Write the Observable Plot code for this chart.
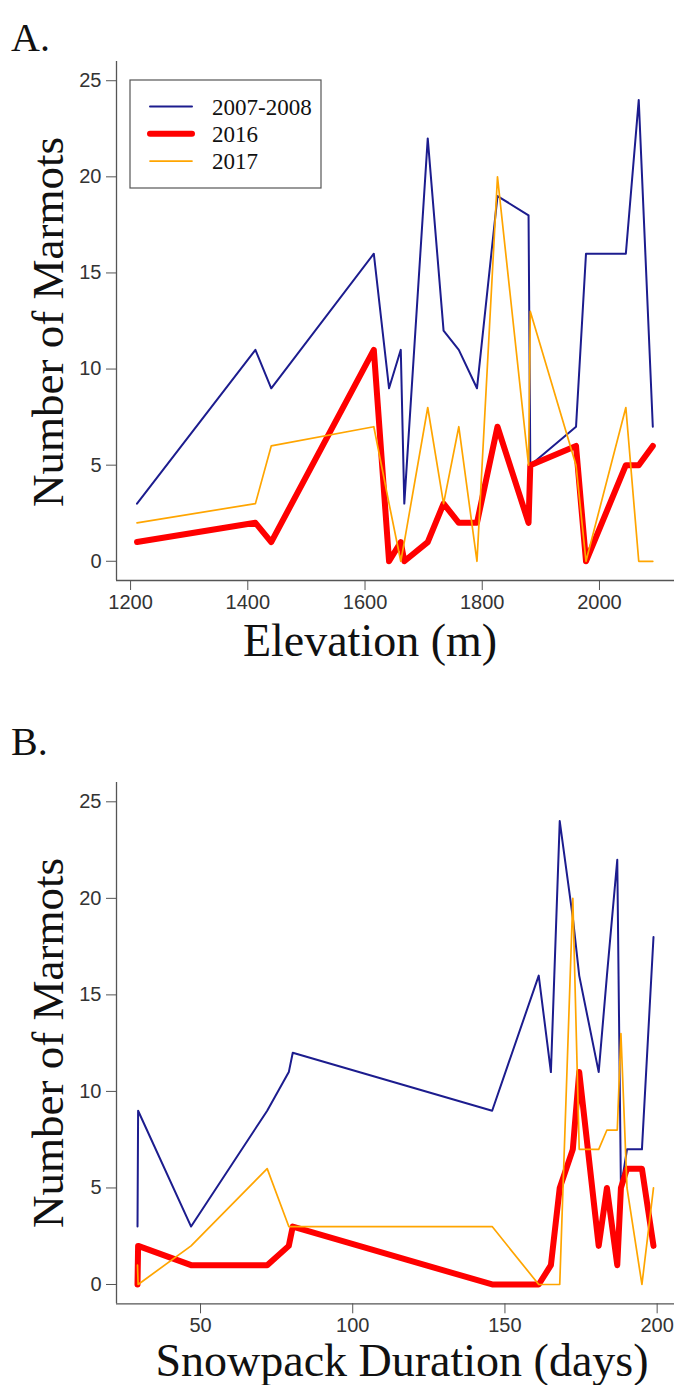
<!DOCTYPE html>
<html><head><meta charset="utf-8">
<script src="https://cdn.jsdelivr.net/npm/d3@7"></script>
<script src="https://cdn.jsdelivr.net/npm/@observablehq/plot@0.6"></script>
<style>
body{margin:0;background:#fff;}
#wrap{position:relative;width:677px;height:1385px;overflow:hidden;}
#wrap > svg{position:absolute;left:0;}
</style></head><body><div id="wrap"></div>
<script>
// ---- data (one entry per site) ----
const elevation = [1211,1413,1440,1615,1641,1661,1667,1707,1734,1760,1791,1826,1879,1882,1960,1977,2045,2067,2091];
const snowpack  = [46.9,79.0,71.9,174.4,145.8,165.1,29.3,186.9,80.3,180.8,29.5,172.3,198.8,188.1,190.1,161.1,183.5,168.0,195.0];
const marmots2007_2008 = [3,11,9,16,9,11,3,22,12,11,9,19,18,5,7,16,16,24,7];
const marmots2016      = [1,2,1,11,0,1,0,1,3,2,2,7,2,5,6,0,5,5,6];
const marmots2017      = [2,3,6,7,3,0,1,8,3,7,0,20,5,13,5,0,8,0,0];
const seriesNames  = ["2007-2008","2016","2017"];
const seriesColors = ["#1c1c8e","#ff0000","#ffa500"];
const seriesWidths = [2,6,1.7];
const elevationTicks = [1200,1400,1600,1800,2000];
const snowTicks = [50,100,150,200];
const countTicks = [0,5,10,15,20,25];

const seriesValues = [marmots2007_2008, marmots2016, marmots2017];
const serif = "'Liberation Serif','Times New Roman',serif";
const sans = "'Liberation Sans',Arial,sans-serif";

function seriesRows(xs, i){
  return d3.sort(xs.map((x,j)=>({x, y: seriesValues[i][j], series: seriesNames[i]})), d=>d.x);
}

function panel({xs, xDomain, ticks, height, marginTop, marginBottom}){
  const marks = [];
  seriesNames.forEach((name,i)=>{
    marks.push(Plot.line(seriesRows(xs,i), {x:"x", y:"y", stroke: seriesColors[i], strokeWidth: seriesWidths[i], strokeLinejoin:"round", strokeLinecap:"round"}));
  });
  marks.push(Plot.ruleX([xDomain[0]], {stroke:"#555", strokeWidth:1.3}));
  marks.push(Plot.ruleY([-1], {stroke:"#555", strokeWidth:1.3}));
  marks.push(Plot.axisX({ticks, tickSize:10, tickPadding:4, fontSize:20, label:null, stroke:"#555", tickFormat: d3.format("d")}));
  marks.push(Plot.axisY({ticks: countTicks, tickSize:10, tickPadding:5, fontSize:20, label:null, stroke:"#555", tickFormat: d3.format("d")}));
  return Plot.plot({
    width:677, height, marginLeft:116, marginRight:3, marginTop, marginBottom,
    x:{domain:xDomain}, y:{domain:[-1,26]},
    style:{fontFamily:sans, color:"#333", background:"#fff", overflow:"visible"},
    marks
  });
}

const wrap = d3.select("#wrap");

function addText(sel, {x, y, size, text, anchor="start", transform=null}){
  const t = sel.append("text").attr("text-anchor",anchor).attr("font-family",serif).attr("font-size",size).attr("fill","#111").text(text);
  if (transform) t.attr("transform",transform); else t.attr("x",x).attr("y",y);
  return t;
}

// Panel A
const svgA = panel({xs: elevation, xDomain:[1176,2128], ticks: elevationTicks, height:690, marginTop:61, marginBottom:110});
svgA.style.top = "0px";
wrap.node().appendChild(svgA);
const sA = d3.select(svgA);
addText(sA, {x:11, y:51, size:40, text:"A."});
addText(sA, {x:370, y:656, size:46, text:"Elevation (m)", anchor:"middle"});
addText(sA, {transform:"translate(63,322) rotate(-90)", size:45, text:"Number of Marmots", anchor:"middle"});

// Legend (panel A)
const lg = sA.append("g");
lg.append("rect").attr("x",130).attr("y",80).attr("width",191).attr("height",108).attr("fill","#fff").attr("stroke","#555").attr("stroke-width",1.2);
seriesNames.forEach((name,i)=>{
  const yy = 106.5 + i*27.3;
  lg.append("line").attr("x1",150).attr("x2",192).attr("y1",yy).attr("y2",yy).attr("stroke",seriesColors[i]).attr("stroke-width",seriesWidths[i]).attr("stroke-linecap","round");
  addText(lg, {x:212, y:yy+8, size:23, text:name});
});

// Panel B
const svgB = panel({xs: snowpack, xDomain:[22.4,205.7], ticks: snowTicks, height:695, marginTop:92, marginBottom:81.7});
svgB.style.top = "690px";
wrap.node().appendChild(svgB);
const sB = d3.select(svgB);
addText(sB, {x:11, y:65, size:40, text:"B."});
addText(sB, {x:402, y:686, size:46, text:"Snowpack Duration (days)", anchor:"middle"});
addText(sB, {transform:"translate(63,353) rotate(-90)", size:45, text:"Number of Marmots", anchor:"middle"});
</script></body></html>
